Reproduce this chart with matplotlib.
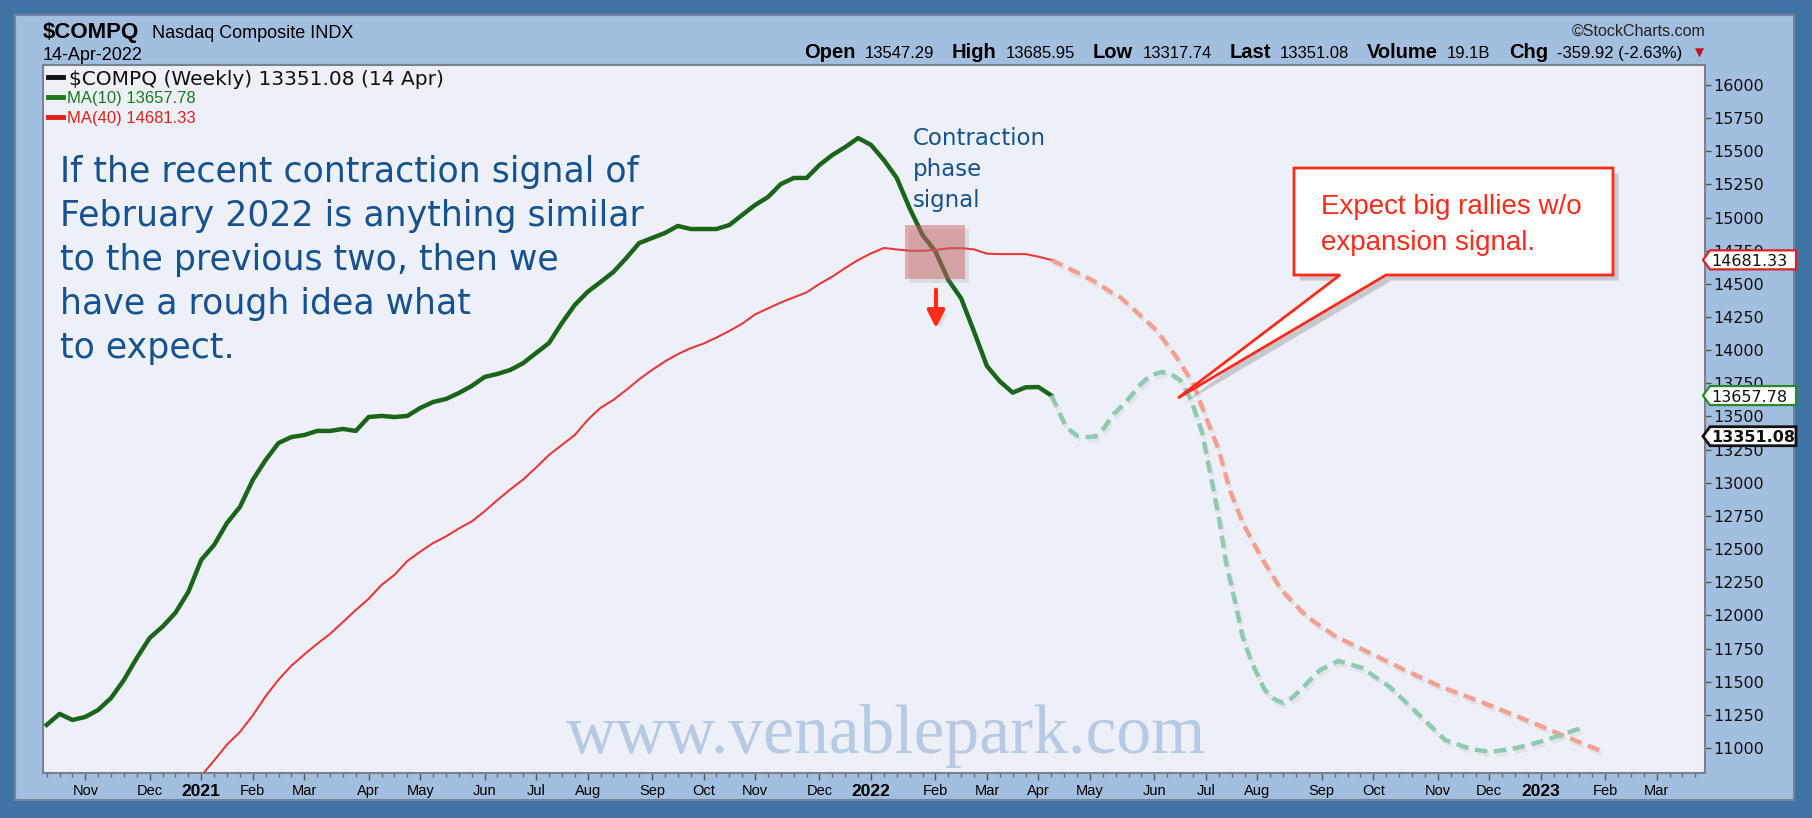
import pandas as pd
import matplotlib
matplotlib.use("Agg")
import matplotlib.pyplot as plt
import matplotlib.dates as mdates
import matplotlib.patheffects as pe
import matplotlib.transforms as mtransforms
from matplotlib.patches import Rectangle, Polygon, FancyArrowPatch
from matplotlib.lines import Line2D
from matplotlib.ticker import FixedLocator, NullFormatter

# ---- values ----
ma10_start = "2020-10-16"
ma10 = [11174, 11257, 11211, 11234, 11287, 11377, 11513, 11679, 11830, 11915,
        12020, 12177, 12418, 12531, 12697, 12817, 13021, 13172, 13300, 13345,
        13360, 13391, 13391, 13406, 13391, 13496, 13504, 13496, 13504, 13564,
        13609, 13632, 13677, 13730, 13798, 13821, 13851, 13903, 13979, 14054,
        14205, 14341, 14440, 14514, 14590, 14695, 14808, 14846, 14884, 14937,
        14914, 14914, 14914, 14944, 15020, 15095, 15155, 15253, 15299, 15299,
        15397, 15472, 15532, 15600, 15548, 15434, 15299, 15070, 14869, 14745,
        14530, 14390, 14140, 13880, 13765, 13680, 13720, 13722, 13658]

ma40_start = "2021-01-08"
ma40 = [10790, 10905, 11025, 11120, 11245, 11390, 11515, 11620, 11705, 11785,
        11860, 11950, 12040, 12125, 12230, 12305, 12410, 12480, 12545, 12595,
        12655, 12708, 12785, 12870, 12950, 13025, 13115, 13210, 13285, 13360,
        13474, 13565, 13625, 13700, 13780, 13851, 13915, 13970, 14015, 14050,
        14095, 14145, 14200, 14270, 14315, 14360, 14398, 14436, 14500, 14555,
        14620, 14680, 14730, 14771, 14760, 14750, 14750, 14756, 14768, 14770,
        14760, 14728, 14725, 14725, 14725, 14705, 14681]

# hand-drawn projections
proj10_dates = ["2022-04-15", "2022-04-23", "2022-04-29", "2022-05-05", "2022-05-09",
                "2022-05-14", "2022-05-19", "2022-05-25", "2022-06-03", "2022-06-08",
                "2022-06-14", "2022-06-19", "2022-06-24", "2022-06-30", "2022-07-06",
                "2022-07-10", "2022-07-15", "2022-07-19", "2022-07-24", "2022-07-28",
                "2022-08-02", "2022-08-09", "2022-08-14", "2022-08-19", "2022-08-24",
                "2022-08-30", "2022-09-08", "2022-09-18", "2022-10-01", "2022-10-16",
                "2022-11-02", "2022-11-15", "2022-11-29", "2022-12-10", "2022-12-24",
                "2023-01-09", "2023-01-20", "2023-01-30"]
proj10 = [13658, 13420, 13355, 13345, 13350, 13420, 13520, 13600, 13750, 13810,
          13836, 13820, 13775, 13624, 13375, 13096, 12742, 12395, 12093, 11837,
          11641, 11437, 11370, 11339, 11380, 11460, 11588, 11656, 11603, 11460,
          11234, 11060, 10992, 10970, 11000, 11060, 11113, 11158]

proj40_dates = ["2022-04-15", "2022-04-24", "2022-05-02", "2022-05-10", "2022-05-16",
                "2022-05-23", "2022-06-01", "2022-06-11", "2022-06-22", "2022-07-01",
                "2022-07-08", "2022-07-15", "2022-07-21", "2022-07-28", "2022-08-07",
                "2022-08-18", "2022-09-01", "2022-09-17", "2022-10-05", "2022-10-24",
                "2022-11-13", "2022-12-06", "2022-12-29", "2023-01-20", "2023-02-09"]
proj40 = [14681, 14620, 14565, 14507, 14450, 14394, 14280, 14152, 13949, 13750,
          13496, 13247, 12946, 12697, 12440, 12192, 11988, 11837, 11717, 11588,
          11460, 11339, 11211, 11083, 10970]

last_price = 13351.08
last_ma10 = 13657.78
last_ma40 = 14681.33
quote = [("Open", "13547.29"), ("High", "13685.95"), ("Low", "13317.74"),
         ("Last", "13351.08"), ("Volume", "19.1B"), ("Chg", "-359.92 (-2.63%)")]

y_ticks = list(range(11000, 16001, 250))

# ---- layout (pixels of the 1812x818 picture) ----
W, H = 1812, 818


def fx(x):
    return x / W


def fy(y):
    return 1 - y / H


BLUE_TXT = "#15528f"
SANS = "Liberation Sans"

fig = plt.figure(figsize=(W / 100, H / 100), dpi=100, facecolor="#3e73a4")
fig.patches.append(Rectangle((fx(15), fy(800)), fx(1794 - 15), (800 - 15) / H,
                             transform=fig.transFigure, fc="#a3bfdf", ec="#72849a",
                             lw=1.5, zorder=-5))

ax = fig.add_axes([fx(43), fy(773), fx(1705 - 43), (773 - 65) / H])
ax.set_facecolor("#eef0f8")
for s in ax.spines.values():
    s.set_color("#7c828c")
    s.set_linewidth(1.5)

x10 = pd.date_range(ma10_start, periods=len(ma10), freq="W-FRI")
x40 = pd.date_range(ma40_start, periods=len(ma40), freq="W-FRI")
ax.plot(x10, ma10, color="#1b651b", lw=3.2, solid_joinstyle="round", zorder=3)
ax.plot(x40, ma40, color="#e8383a", lw=1.5, zorder=3)

shadow = [pe.SimpleLineShadow(offset=(1.5, -2.5), shadow_color="#9a9a9a", alpha=0.13),
          pe.Normal()]
ax.plot(pd.to_datetime(proj40_dates), proj40, color="#f2a090", lw=3.2,
        dashes=(2.8, 1.5), path_effects=shadow, zorder=3)
ax.plot(pd.to_datetime(proj10_dates), proj10, color="#8ecaae", lw=3.2,
        dashes=(2.8, 1.5), path_effects=shadow, zorder=3)

ax.set_xlim(pd.Timestamp("2020-10-14"), pd.Timestamp("2023-04-05 06:00"))
ax.set_ylim(10811, 16151)

# right-hand price scale
ax.yaxis.tick_right()
ax.set_yticks(y_ticks)
ax.set_yticklabels([str(v) for v in y_ticks])
ax.tick_params(axis="y", direction="out", length=4, width=1, color="#555555",
               pad=2, labelsize=11.5, labelcolor="#111111")
for lab in ax.get_yticklabels():
    lab.set_fontfamily("DejaVu Sans")

# month labels at the first weekly bar of each month
month_pos = pd.date_range("2020-11-01", "2023-03-31", freq="WOM-1MON") + pd.Timedelta(days=4)
month_lab = [d.strftime("%Y") if d.month == 1 else d.strftime("%b") for d in month_pos]
weeks = pd.date_range("2020-10-16", "2023-04-07", freq="W-FRI")
ax.xaxis.set_major_locator(FixedLocator(mdates.date2num(month_pos)))
ax.xaxis.set_minor_locator(FixedLocator(mdates.date2num(weeks)))
ax.xaxis.set_minor_formatter(NullFormatter())
ax.set_xticklabels(month_lab)
ax.tick_params(axis="x", which="major", direction="out", length=5, width=1,
               color="#555555", pad=3)
ax.tick_params(axis="x", which="minor", direction="out", length=3, width=1,
               color="#666666")
for lab, d in zip(ax.get_xticklabels(), month_pos):
    if d.month == 1:
        lab.set_fontproperties({"family": SANS, "weight": "bold", "size": 12.5})
    else:
        lab.set_fontproperties({"family": SANS, "size": 10.5})

# ---- header ----
fig.text(fx(43), fy(38), "$COMPQ", family=SANS, weight="bold", size=16, va="baseline")
fig.text(fx(152), fy(38), "Nasdaq Composite INDX", family=SANS, size=13, va="baseline")
fig.text(fx(43), fy(60), "14-Apr-2022", family=SANS, size=13, va="baseline")
fig.text(fx(1706), fy(36), "\u00a9StockCharts.com", family=SANS, size=11.5,
         color="#222222", ha="right", va="baseline")

renderer = fig.canvas.get_renderer()
runs = []
for word, num in quote:
    runs.append((word, dict(family=SANS, weight="bold", size=14.5), 9))
    runs.append((num, dict(family=SANS, size=12), 18))
items = []
total = 0
for txt, kw, gap in runs:
    t = fig.text(0, fy(58), txt, va="baseline", **kw)
    w = t.get_window_extent(renderer).width
    items.append((t, w, gap))
    total += w + gap
xpos = 1700 - total
for t, w, gap in items:
    t.set_x(fx(xpos))
    xpos += w + gap
fig.text(fx(1695), fy(57), "\u25bc", family="DejaVu Sans", size=8.5, color="#c0102e",
         va="baseline")

# legend inside the plot
leg = [("$COMPQ (Weekly) 13351.08 (14 Apr)", "#111111", 77, 85, "DejaVu Sans", 14.5, 69),
       ("MA(10) 13657.78", "#1b7a1b", 97, 103, SANS, 12, 67),
       ("MA(40) 14681.33", "#e0201c", 117, 123, SANS, 12, 67)]
for txt, col, ly, by, fam, sz, tx in leg:
    fig.add_artist(Line2D([fx(48), fx(63)], [fy(ly), fy(ly)], color=col, lw=3.5,
                          transform=fig.transFigure))
    fig.text(fx(tx), fy(by), txt, color=col, family=fam, size=sz, va="baseline")

# price tags on the right scale
blend = mtransforms.blended_transform_factory(fig.transFigure, ax.transData)
half = 9.5 / 708 * (16151 - 10811)
for val, edge, bold in [(last_ma40, "#e02020", False), (last_ma10, "#2a8a2a", False),
                        (last_price, "#111111", True)]:
    pts = [(fx(1703), val), (fx(1710), val + half), (fx(1796), val + half),
           (fx(1796), val - half), (fx(1710), val - half)]
    fig.patches.append(Polygon(pts, closed=True, transform=blend, fc="white",
                               ec=edge, lw=1.6 if not bold else 2, zorder=5))
    fig.text(fx(1711), val, f"{val:.2f}", transform=blend, va="center_baseline",
             family="DejaVu Sans", size=11.5, weight="bold" if bold else "normal",
             color="#111111", zorder=6)

# ---- annotations ----
fig.text(fx(566), fy(753), "www.venablepark.com", family="Liberation Serif",
         size=50, color="#b6cae3", va="baseline", zorder=0.5)

body = ["If the recent contraction signal of", "February 2022 is anything similar",
        "to the previous two, then we", "have a rough idea what", "to expect."]
for i, line in enumerate(body):
    fig.text(fx(60), fy(182 + 44 * i), line, family="DejaVu Sans", size=25,
             color=BLUE_TXT, va="baseline")

for i, line in enumerate(["Contraction", "phase", "signal"]):
    fig.text(fx(913), fy(145 + 31 * i), line, family="DejaVu Sans", size=16.5,
             color=BLUE_TXT, va="baseline")

soft = [pe.SimplePatchShadow(offset=(3, -3), shadow_rgbFace="#8a8a8a", alpha=0.18),
        pe.Normal()]
fig.patches.append(Rectangle((fx(905), fy(279)), fx(60), 54 / H,
                             transform=fig.transFigure, fc="#c85a5a", alpha=0.45,
                             ec="none", zorder=4, path_effects=soft))
fig.patches.append(FancyArrowPatch((fx(936), fy(287)), (fx(936), fy(331)),
                                   transform=fig.transFigure, arrowstyle="-|>",
                                   mutation_scale=26, lw=3, color="#ff2d1a",
                                   zorder=4, path_effects=soft))

callout = [(1294, 168), (1613, 168), (1613, 275), (1386, 275), (1178, 398),
           (1340, 275), (1294, 275)]
fig.patches.append(Polygon([(fx(x), fy(y)) for x, y in callout], closed=True,
                           transform=fig.transFigure, fc="white", ec="#ff2a1a",
                           lw=2, joinstyle="miter", zorder=4,
                           path_effects=[pe.SimplePatchShadow(offset=(4, -4),
                                                              shadow_rgbFace="#666666",
                                                              alpha=0.28),
                                         pe.Normal()]))
fig.text(fx(1321), fy(214), "Expect big rallies w/o", family=SANS, size=20,
         color="#ff2a1a", va="baseline", zorder=6)
fig.text(fx(1321), fy(250), "expansion signal.", family=SANS, size=20,
         color="#ff2a1a", va="baseline", zorder=6)

fig.savefig("out.png", dpi=100, facecolor=fig.get_facecolor())
